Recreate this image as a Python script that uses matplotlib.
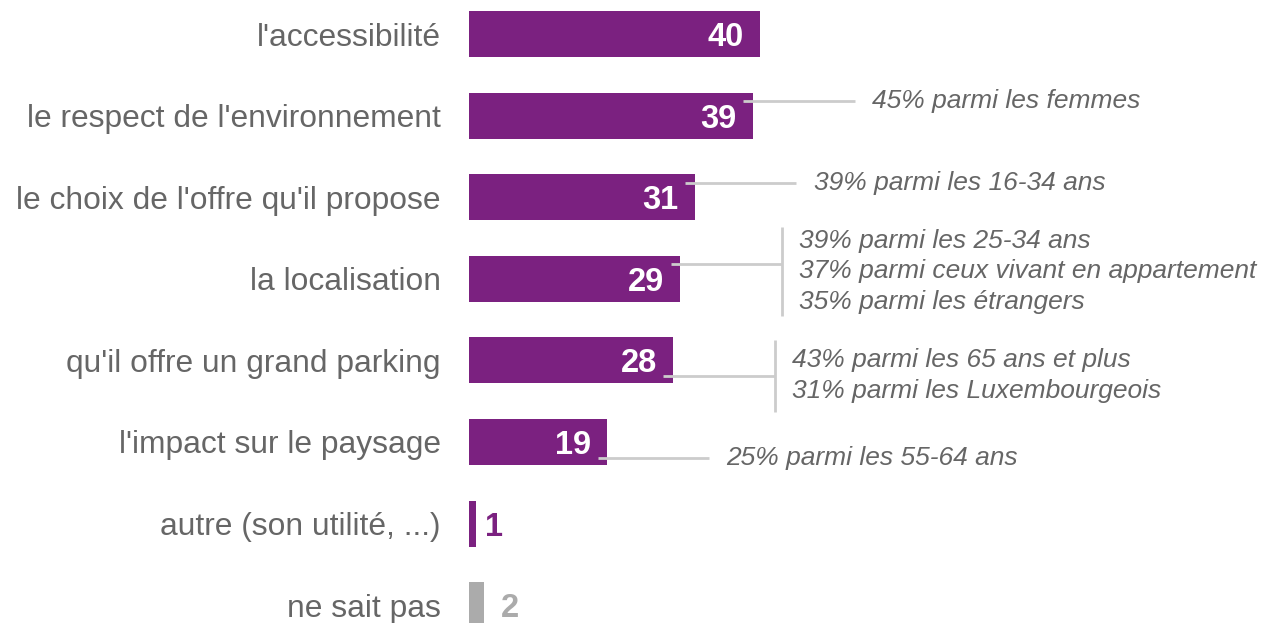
import matplotlib
matplotlib.use("Agg")
import matplotlib.pyplot as plt

plt.rcParams['font.family'] = ['Liberation Sans', 'DejaVu Sans']

categories = ["l'accessibilité", "le respect de l'environnement",
              "le choix de l'offre qu'il propose", "la localisation",
              "qu'il offre un grand parking", "l'impact sur le paysage",
              "autre (son utilité, ...)", "ne sait pas"]
values = [40, 39, 31, 29, 28, 19, 1, 2]

# annotations: (bar index, text lines)
notes = [
    (1, ["45% parmi les femmes"]),
    (2, ["39% parmi les 16-34 ans"]),
    (3, ["39% parmi les 25-34 ans",
         "37% parmi ceux vivant en appartement",
         "35% parmi les étrangers"]),
    (4, ["43% parmi les 65 ans et plus",
         "31% parmi les Luxembourgeois"]),
    (5, ["25% parmi les 55-64 ans"]),
]

PURPLE = "#7B2180"
GREY_BAR = "#ABABAB"
TXT = "#666666"
LINE = "#CCCCCC"

W, H = 1265, 623
fig = plt.figure(figsize=(W / 100, H / 100), dpi=100)
x0 = 469
pxu = 7.275
ax = fig.add_axes([x0 / W, 0, (W - x0) / W, 1])
ax.set_xlim(0, (W - x0) / pxu)
ypx0, ystep = 34.0, 81.6
ax.set_ylim((H - ypx0) / ystep, -ypx0 / ystep)

colors = [PURPLE] * 7 + [GREY_BAR]
ypos = list(range(len(values)))
ax.barh(ypos, values, height=0.565, color=colors)

ax.set_yticks(ypos)
ax.set_yticklabels(categories, fontsize=22.9, color=TXT)
ax.tick_params(axis='y', length=0, pad=20.5)
ax.set_xticks([])
for s in ax.spines.values():
    s.set_visible(False)

# value labels
for i, v in enumerate(values):
    if v >= 10:
        ax.text(v - 2.2, i, str(v), ha='right', va='center_baseline',
                fontsize=23.5, fontweight='bold', color='white')
    else:
        c = PURPLE if i == 6 else GREY_BAR
        off = 1.2 if i == 6 else 2.4
        ax.text(v + off, i, str(v), ha='left', va='center_baseline',
                fontsize=23.5, fontweight='bold', color=c)

# annotations
lw = 2
for idx, lines in notes:
    v = values[idx]
    below = idx >= 4
    ly = idx + (0.19 if below else -0.18)
    xend = v + 14.0
    ax.plot([v - 1.3, xend], [ly, ly], color=LINE, lw=lw, clip_on=False,
            solid_capstyle='butt')
    n = len(lines)
    ty = ly
    if n > 1:
        if not below:
            ty = idx - 0.09
            half = 0.54
        else:
            ty = ly
            half = 0.44
        ax.plot([xend, xend], [ty - half, ty + half],
                color=LINE, lw=lw, clip_on=False, solid_capstyle='butt')
    ax.text(v + 16.4, ty, "\n".join(lines), ha='left', va='center',
            fontsize=19, style='italic', color=TXT, linespacing=1.36)

fig.savefig("out.png", dpi=100)
